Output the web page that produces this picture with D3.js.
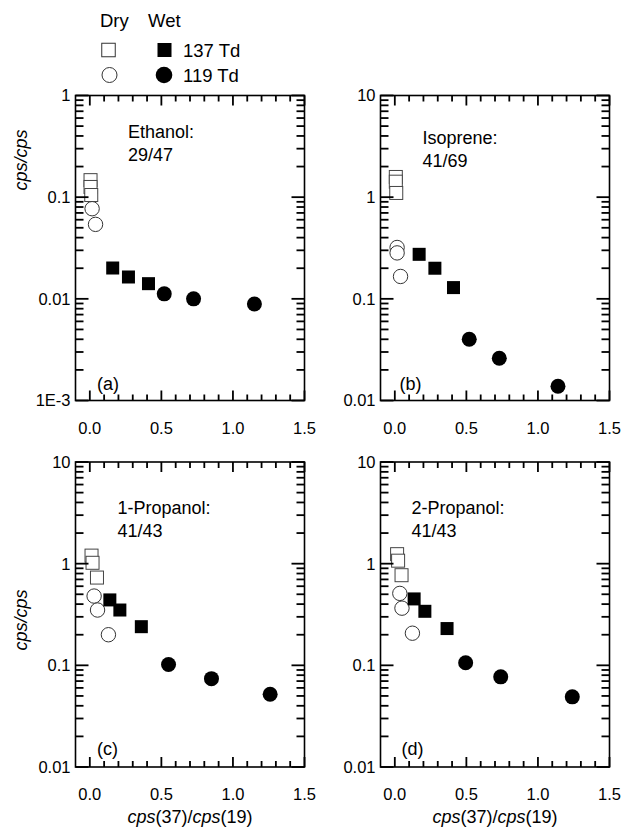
<!DOCTYPE html>
<html>
<head>
<meta charset="utf-8">
<script src="https://cdn.jsdelivr.net/npm/d3@7"></script>
</head>
<body style="margin:0">
<svg id="chart" width="621" height="827"></svg>
<script>
// ---------------- DATA ----------------
const panelLetters = ["(a)", "(b)", "(c)", "(d)"];
const compoundNames = ["Ethanol:", "Isoprene:", "1-Propanol:", "2-Propanol:"];
const ionRatios = ["29/47", "41/69", "41/43", "41/43"];
const yDomains = [[0.001, 1], [0.01, 10], [0.01, 10], [0.01, 10]];
const yTickValues = [[1, 0.1, 0.01, 0.001], [10, 1, 0.1, 0.01], [10, 1, 0.1, 0.01], [10, 1, 0.1, 0.01]];
const yTickLabels = [["1", "0.1", "0.01", "1E-3"], ["10", "1", "0.1", "0.01"], ["10", "1", "0.1", "0.01"], ["10", "1", "0.1", "0.01"]];
const xDomain = [-0.1, 1.5];
const xTickValues = [0, 0.5, 1.0, 1.5];
const xTickLabels = ["0.0", "0.5", "1.0", "1.5"];
const xMinorValues = [0.1, 0.2, 0.3, 0.4, 0.6, 0.7, 0.8, 0.9, 1.1, 1.2, 1.3, 1.4];
const legendHeaders = ["Dry", "Wet"];
const legendLabels = ["137 Td", "119 Td"];

// series: [x, y] pairs — dry 137 Td (open squares), dry 119 Td (open circles),
// wet 137 Td (filled squares), wet 119 Td (filled circles)
const ethanolDry137 = [[0.005, 0.147], [0.005, 0.126], [0.01, 0.105]];
const ethanolDry119 = [[0.016, 0.077], [0.04, 0.054]];
const ethanolWet137 = [[0.16, 0.0201], [0.27, 0.0164], [0.41, 0.0141]];
const ethanolWet119 = [[0.52, 0.0112], [0.725, 0.0100], [1.15, 0.0089]];

const isopreneDry137 = [[0.007, 1.58], [0.007, 1.42], [0.01, 1.10]];
const isopreneDry119 = [[0.016, 0.32], [0.016, 0.283], [0.04, 0.166]];
const isopreneWet137 = [[0.17, 0.274], [0.28, 0.20], [0.41, 0.129]];
const isopreneWet119 = [[0.52, 0.040], [0.73, 0.026], [1.14, 0.0138]];

const propanol1Dry137 = [[0.012, 1.20], [0.019, 1.02], [0.05, 0.73]];
const propanol1Dry119 = [[0.03, 0.48], [0.054, 0.35], [0.13, 0.20]];
const propanol1Wet137 = [[0.14, 0.44], [0.21, 0.35], [0.36, 0.24]];
const propanol1Wet119 = [[0.55, 0.102], [0.85, 0.074], [1.26, 0.052]];

const propanol2Dry137 = [[0.016, 1.24], [0.023, 1.07], [0.047, 0.77]];
const propanol2Dry119 = [[0.035, 0.51], [0.05, 0.365], [0.123, 0.207]];
const propanol2Wet137 = [[0.135, 0.45], [0.21, 0.34], [0.365, 0.23]];
const propanol2Wet119 = [[0.495, 0.106], [0.74, 0.077], [1.24, 0.049]];

const panelSeries = [
  [ethanolDry137, ethanolDry119, ethanolWet137, ethanolWet119],
  [isopreneDry137, isopreneDry119, isopreneWet137, isopreneWet119],
  [propanol1Dry137, propanol1Dry119, propanol1Wet137, propanol1Wet119],
  [propanol2Dry137, propanol2Dry119, propanol2Wet137, propanol2Wet119]
];

// ---------------- LAYOUT ----------------
const PW = 229, PH = 305;
const layout = [
  { left: 75.5, top: 95.5, name: [52.5, 42.5], letter: [21.5, 294.5] },
  { left: 380.5, top: 95.5, name: [42, 48.5], letter: [19, 294.5] },
  { left: 75.5, top: 462, name: [42, 51.5], letter: [21.5, 293] },
  { left: 380.5, top: 462, name: [31, 51.5], letter: [21, 293] }
];
const FONT = '"Liberation Sans", Arial, sans-serif';
const SQ = 13, CR = 7.2;
const XMAJ = 10, XMIN = 6, YMAJ = 13, YMIN = 8, TW = 1.8;

const svg = d3.select("#chart");
svg.append("rect").attr("width", 621).attr("height", 827).attr("fill", "#fff");

function minorLog(domain) {
  const out = [];
  for (let e = Math.round(Math.log10(domain[0])); e < Math.round(Math.log10(domain[1])); e++) {
    for (let m = 2; m <= 9; m++) out.push(m * Math.pow(10, e));
  }
  return out;
}

const tickRects = [];
layout.forEach((L, i) => {
  const x = d3.scaleLinear().domain(xDomain).range([L.left, L.left + PW]);
  const y = d3.scaleLog().domain(yDomains[i]).range([L.top + PH, L.top]);
  const g = svg.append("g");

  // frame
  g.append("rect").attr("x", L.left).attr("y", L.top).attr("width", PW).attr("height", PH)
    .attr("fill", "none").attr("stroke", "#000").attr("stroke-width", 1.6);

  // tick labels
  g.selectAll(null).data(xTickValues).enter().append("text")
    .attr("x", d => x(d)).attr("y", L.top + PH + 33).attr("text-anchor", "middle")
    .style("font-family", FONT).style("font-size", "16.5px")
    .text((d, k) => xTickLabels[k]);
  g.selectAll(null).data(yTickValues[i]).enter().append("text")
    .attr("x", L.left - 5).attr("y", d => y(d)).attr("dy", "0.36em").attr("text-anchor", "end")
    .style("font-family", FONT).style("font-size", "16.5px")
    .text((d, k) => yTickLabels[i][k]);

  // markers
  const [dry137, dry119, wet137, wet119] = panelSeries[i];
  g.selectAll(null).data(dry137).enter().append("rect")
    .attr("x", d => x(d[0]) - SQ / 2).attr("y", d => y(d[1]) - SQ / 2)
    .attr("width", SQ).attr("height", SQ)
    .attr("fill", "#fff").attr("stroke", "#444").attr("stroke-width", 1);
  g.selectAll(null).data(dry119).enter().append("circle")
    .attr("cx", d => x(d[0])).attr("cy", d => y(d[1])).attr("r", CR)
    .attr("fill", "#fff").attr("stroke", "#333").attr("stroke-width", 1);
  g.selectAll(null).data(wet137).enter().append("rect")
    .attr("x", d => x(d[0]) - SQ / 2).attr("y", d => y(d[1]) - SQ / 2)
    .attr("width", SQ).attr("height", SQ).attr("fill", "#000");
  g.selectAll(null).data(wet119).enter().append("circle")
    .attr("cx", d => x(d[0])).attr("cy", d => y(d[1])).attr("r", CR + 0.3)
    .attr("fill", "#000");

  // annotations
  g.append("text").attr("x", L.left + L.name[0]).attr("y", L.top + L.name[1])
    .style("font-family", FONT).style("font-size", "18px").text(compoundNames[i]);
  g.append("text").attr("x", L.left + L.name[0]).attr("y", L.top + L.name[1] + 23)
    .style("font-family", FONT).style("font-size", "18px").text(ionRatios[i]);
  g.append("text").attr("x", L.left + L.letter[0]).attr("y", L.top + L.letter[1])
    .style("font-family", FONT).style("font-size", "18px").text(panelLetters[i]);

  // ticks (inward on all four sides) as thin filled rects: [x, y, w, h]
  const bottom = L.top + PH, top = L.top, left = L.left, right = L.left + PW;
  const vt = xTickValues.map(v => [v, XMAJ]).concat(xMinorValues.map(v => [v, XMIN]));
  vt.forEach(([v, len]) => {
    tickRects.push([x(v) - TW / 2, bottom - len, TW, len]);
    tickRects.push([x(v) - TW / 2, top, TW, len]);
  });
  const ht = yTickValues[i].map(v => [v, YMAJ]).concat(minorLog(yDomains[i]).map(v => [v, YMIN]));
  ht.forEach(([v, len]) => {
    tickRects.push([left, y(v) - TW / 2, len, TW]);
    tickRects.push([right - len, y(v) - TW / 2, len, TW]);
  });
});

svg.append("g").selectAll(null).data(tickRects).enter().append("rect")
  .attr("x", d => d[0]).attr("y", d => d[1]).attr("width", d => d[2]).attr("height", d => d[3])
  .attr("fill", "#000");

// y axis titles
[160, 620].forEach(cy => {
  svg.append("text").attr("transform", `translate(27,${cy}) rotate(-90)`)
    .attr("text-anchor", "middle").style("font-family", FONT).style("font-size", "18px")
    .style("font-style", "italic").text("cps/cps");
});

// x axis titles
[190, 495].forEach(cx => {
  const t = svg.append("text").attr("x", cx).attr("y", 823).attr("text-anchor", "middle")
    .style("font-family", FONT).style("font-size", "18px");
  t.append("tspan").style("font-style", "italic").text("cps");
  t.append("tspan").text("(37)/");
  t.append("tspan").style("font-style", "italic").text("cps");
  t.append("tspan").text("(19)");
});

// legend
const lg = svg.append("g");
lg.append("text").attr("x", 100).attr("y", 27).style("font-family", FONT).style("font-size", "18.5px").text(legendHeaders[0]);
lg.append("text").attr("x", 148).attr("y", 27).style("font-family", FONT).style("font-size", "18.5px").text(legendHeaders[1]);
lg.append("rect").attr("x", 108.5 - 6.75).attr("y", 50 - 6.75).attr("width", 13.5).attr("height", 13.5)
  .attr("fill", "#fff").attr("stroke", "#333").attr("stroke-width", 1);
lg.append("rect").attr("x", 164.5 - 7).attr("y", 50 - 7).attr("width", 14).attr("height", 14).attr("fill", "#000");
lg.append("circle").attr("cx", 109.5).attr("cy", 75).attr("r", 7.5)
  .attr("fill", "#fff").attr("stroke", "#333").attr("stroke-width", 1);
lg.append("circle").attr("cx", 164).attr("cy", 75).attr("r", 8.3).attr("fill", "#000");
lg.append("text").attr("x", 183).attr("y", 57).style("font-family", FONT).style("font-size", "18.5px").text(legendLabels[0]);
lg.append("text").attr("x", 183).attr("y", 82).style("font-family", FONT).style("font-size", "18.5px").text(legendLabels[1]);
</script>
</body>
</html>
